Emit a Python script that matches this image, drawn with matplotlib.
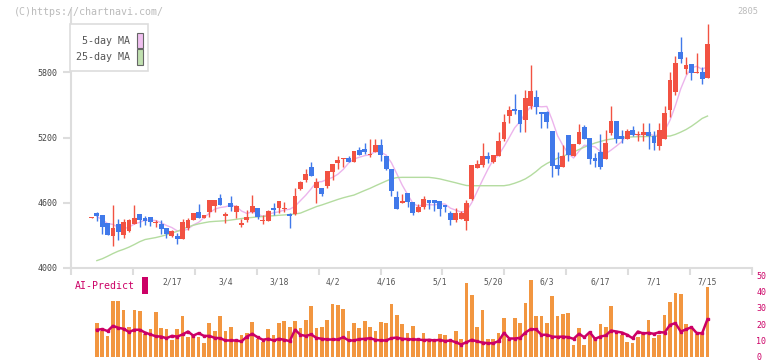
import numpy as np
import pandas as pd
import matplotlib
matplotlib.use("Agg")
import matplotlib.pyplot as plt
from matplotlib.patches import Rectangle

# OHLC, one row per trading day (first row is the day before the bars start)
ohlc = [
    (4463, 4470, 4460, 4469), (4506, 4518, 4435, 4481), (4488, 4490, 4316, 4380), (4414, 4416, 4300, 4307),
    (4297, 4580, 4205, 4368), (4405, 4451, 4261, 4334), (4307, 4454, 4279, 4423), (4340, 4450, 4334, 4442),
    (4408, 4580, 4405, 4460), (4497, 4500, 4380, 4442), (4460, 4478, 4396, 4435), (4469, 4472, 4386, 4423),
    (4414, 4442, 4380, 4423), (4405, 4442, 4316, 4359), (4368, 4372, 4279, 4316), (4297, 4350, 4288, 4340),
    (4294, 4319, 4224, 4270), (4270, 4451, 4265, 4423), (4368, 4460, 4350, 4442), (4442, 4510, 4440, 4506),
    (4515, 4586, 4458, 4460), (4460, 4492, 4456, 4488), (4515, 4630, 4469, 4626), (4570, 4630, 4518, 4626),
    (4644, 4681, 4575, 4580), (4478, 4515, 4414, 4497), (4598, 4662, 4524, 4561), (4515, 4575, 4460, 4570),
    (4396, 4451, 4380, 4414), (4442, 4534, 4426, 4469), (4515, 4672, 4506, 4570), (4552, 4555, 4451, 4469),
    (4436, 4487, 4405, 4444), (4432, 4530, 4430, 4524), (4552, 4598, 4487, 4533), (4552, 4620, 4506, 4616),
    (4543, 4607, 4515, 4552), (4497, 4506, 4368, 4478), (4497, 4736, 4490, 4662), (4727, 4800, 4722, 4791),
    (4810, 4911, 4791, 4865), (4929, 4975, 4843, 4846), (4736, 4828, 4598, 4791), (4736, 4740, 4662, 4681),
    (4754, 4895, 4736, 4892), (4883, 4960, 4810, 4957), (4966, 5030, 4911, 4994), (5003, 5014, 4929, 5012),
    (5012, 5030, 4972, 4975), (4975, 5080, 4972, 5076), (5085, 5113, 5036, 5039), (5095, 5150, 5049, 5067),
    (5039, 5187, 5024, 5049), (5067, 5187, 5064, 5132), (5132, 5187, 4984, 5039), (5030, 5033, 4902, 4911),
    (4911, 4914, 4662, 4708), (4653, 4708, 4540, 4543), (4598, 4681, 4595, 4616), (4690, 4694, 4561, 4607),
    (4607, 4610, 4487, 4506), (4515, 4589, 4512, 4561), (4561, 4662, 4543, 4635), (4625, 4628, 4546, 4601),
    (4625, 4628, 4527, 4601), (4616, 4619, 4481, 4546), (4579, 4582, 4518, 4561), (4509, 4527, 4398, 4444),
    (4444, 4555, 4426, 4509), (4454, 4527, 4450, 4509), (4435, 4625, 4352, 4601), (4638, 4950, 4628, 4947),
    (4920, 4993, 4917, 4957), (4947, 5150, 4929, 5030), (5030, 5067, 4966, 5003), (4975, 5042, 4966, 5039),
    (5030, 5251, 5027, 5168), (5187, 5417, 5168, 5343), (5398, 5490, 5334, 5454), (5463, 5601, 5417, 5444),
    (5454, 5457, 5251, 5325), (5362, 5638, 5251, 5564), (5490, 5868, 5463, 5628), (5573, 5638, 5417, 5481),
    (5435, 5438, 5288, 5417), (5435, 5444, 5288, 5343), (5260, 5263, 4840, 4938), (4947, 5067, 4855, 4911),
    (4929, 5131, 4926, 5030), (5223, 5226, 4984, 5039), (5030, 5144, 5027, 5141), (5141, 5325, 5138, 5251),
    (5297, 5315, 5184, 5187), (5196, 5199, 4957, 5003), (5012, 5058, 4932, 4987), (5067, 5233, 4914, 4932),
    (5006, 5270, 5003, 5150), (5245, 5490, 5227, 5352), (5352, 5355, 5153, 5190), (5214, 5270, 5153, 5190),
    (5190, 5279, 5187, 5260), (5270, 5306, 5214, 5227), (5227, 5260, 5171, 5236), (5227, 5334, 5171, 5251),
    (5251, 5334, 5098, 5217), (5217, 5260, 5088, 5153), (5125, 5334, 5088, 5270), (5190, 5490, 5187, 5426),
    (5457, 5803, 5392, 5730), (5622, 5950, 5595, 5886), (5987, 6125, 5889, 5926), (5834, 5941, 5785, 5868),
    (5877, 5880, 5733, 5797), (5797, 5978, 5794, 5803), (5803, 5849, 5696, 5742), (5748, 6245, 5745, 6061),
]
opens = np.array([r[0] for r in ohlc], float)
highs = np.array([r[1] for r in ohlc], float)
lows = np.array([r[2] for r in ohlc], float)
closes = np.array([r[3] for r in ohlc], float)

# 25-day MA (starts at day 1)
ma25 = [4068, 4085, 4108, 4133, 4155, 4172, 4192, 4216, 4242, 4262,
        4271, 4280, 4292, 4306, 4322, 4337, 4358, 4378, 4393, 4406,
        4416, 4425, 4429, 4432, 4435, 4441, 4448, 4455, 4461, 4465,
        4470, 4474, 4478, 4481, 4485, 4488, 4492, 4497, 4505, 4525,
        4545, 4565, 4580, 4597, 4614, 4631, 4646, 4659, 4671, 4692,
        4713, 4733, 4756, 4778, 4800, 4820, 4832, 4834, 4834, 4834,
        4834, 4834, 4834, 4828, 4820, 4808, 4796, 4784, 4771, 4759,
        4757, 4757, 4757, 4757, 4757, 4757, 4757, 4765, 4780, 4798,
        4820, 4851, 4888, 4930, 4961, 4986, 5010, 5029, 5047, 5068,
        5090, 5112, 5132, 5150, 5164, 5178, 5186, 5194, 5202, 5204,
        5206, 5208, 5209, 5210, 5211, 5212, 5213, 5214, 5229, 5250,
        5274, 5304, 5339, 5376, 5398]

# bottom panel (days 1..115)
volume = [20.6, 16, 12.5, 34, 34, 28.4, 18.5, 28.4, 27.8, 14,
          16.7, 27.2, 17.3, 16.7, 9.9, 16.7, 24.9, 11.9, 14, 11.9,
          8.2, 20.6, 15.6, 24.9, 16, 18.5, 9.9, 13, 14.4, 21.6,
          10.9, 8.8, 16.7, 13, 20.6, 21.8, 18, 22.2, 17.7, 22.8,
          31, 17.5, 18.5, 22.8, 32.7, 31.7, 29.6, 16, 20.8, 17.5,
          22.2, 18.5, 15.6, 21.6, 20.4, 32.7, 25.5, 20.2, 14.8, 18.7,
          10.9, 14.4, 10.9, 9.5, 13.6, 13, 9.5, 16, 10.9, 45.3,
          37.9, 18.5, 28.4, 11.1, 11.1, 14.8, 23.5, 11.1, 23.5, 20.6,
          33.3, 47.5, 24.7, 24.7, 20.6, 37.2, 24.7, 26.3, 26.7, 6.8,
          17.7, 7.4, 14, 11.9, 19.8, 18.5, 30.9, 15, 13, 8.8,
          8.2, 11.9, 14, 22.8, 11.3, 13, 25.9, 33.9, 39.3, 38.3,
          20.2, 17.7, 14, 15, 42.6]
ai_predict = [16.5, 16.9, 15.7, 18.9, 17.7, 17.1, 15.1, 16.5, 16.5, 14.8,
              13.6, 12.5, 12.3, 11.3, 12.7, 12.3, 13.6, 15.4, 12.9, 14.4,
              12.7, 12.7, 11.5, 11.3, 9.9, 9.9, 9.9, 9.3, 12.3, 14.0,
              11.9, 10.3, 10.9, 9.9, 10.9, 10.3, 9.5, 16.5, 13.4, 12.7,
              13.6, 11.5, 10.9, 10.5, 10.5, 10.5, 11.9, 9.9, 9.9, 10.7,
              10.9, 11.3, 10.3, 9.9, 9.9, 11.3, 11.7, 10.9, 10.7, 10.5,
              10.5, 10.1, 10.3, 9.9, 10.3, 9.5, 9.9, 8.8, 7.4, 8.8,
              10.3, 9.3, 8.6, 8.2, 8.2, 9.5, 14.6, 11.1, 11.1, 11.5,
              14.8, 16.9, 16.7, 13.4, 13.4, 12.3, 12.1, 12.3, 11.9, 10.9,
              14.0, 11.9, 15.0, 10.9, 12.3, 13.0, 16.0, 15.4, 14.8, 13.4,
              11.3, 15.4, 14.2, 14.6, 14.0, 15.0, 14.8, 19.5, 20.6, 15.4,
              16.7, 18.1, 14.4, 14.4, 23.0]

date_labels = ["2/17", "3/4", "3/18", "4/2", "4/16", "5/1", "5/20", "6/3", "6/17", "7/1", "7/15"]
date_idx = [15, 25, 35, 45, 55, 65, 75, 85, 95, 105, 115]

ma5 = pd.Series(closes).rolling(5, min_periods=1).mean().values

RED = "#f25242"
BLUE = "#4079ea"
GRID = "#dddddd"
MONO = "DejaVu Sans Mono"
W, H = 772, 361


def fx(px):
    return px / W


def fy(py):
    return 1 - py / H


fig = plt.figure(figsize=(W / 100, H / 100), dpi=100)

# main candle chart
ax = fig.add_axes([fx(70.7), fy(268), (752.3 - 70.7) / W, 258 / H])
step = (707.5 - 91.5) / 115
xl, xr = (70.7 - 91.5) / step, (752.3 - 91.5) / step
x = np.arange(len(closes))

up = closes >= opens
colors = np.where(up, RED, BLUE)
body_lo = np.minimum(opens, closes)
body_h = np.maximum(np.abs(closes - opens), 9)
ax.vlines(x, lows, highs, colors=colors, lw=1.0, zorder=2)
ax.bar(x, body_h, bottom=body_lo, width=0.9, color=colors, lw=0, zorder=3)

days = x[1:]
ax.plot(days, ma5[1:], color="#ecb4ec", lw=1.0, zorder=1)
ax.plot(days, ma25, color="#b4dca0", lw=1.0, zorder=1)

ax.set_xlim(xl, xr)
ax.set_ylim(4000, 4000 + 258 * 9.2)
ax.set_yticks([4000, 4600, 5200, 5800])
ax.set_xticks(np.linspace(xl, xr, 12))
ax.set_xticklabels([])
ax.tick_params(axis="y", length=6, width=1.5, color=GRID, pad=3.5, labelsize=6, labelcolor="#444444")
ax.tick_params(axis="x", length=5, width=1.5, color=GRID)
for lab in ax.get_yticklabels():
    lab.set_family(MONO)
for s in ["top", "right"]:
    ax.spines[s].set_visible(False)
for s in ["left", "bottom"]:
    ax.spines[s].set_color(GRID)
    ax.spines[s].set_linewidth(1.5)

# bottom panel
ax2 = fig.add_axes([fx(70.7), fy(356.5), (752.3 - 70.7) / W, 81 / H])
ax2.bar(days, volume, width=0.69, color="#f29640", lw=0, zorder=1)
ax2.plot(days, ai_predict, color="#cc0066", lw=1.8, marker="s", ms=2, zorder=2)
ax2.set_xlim(xl, xr)
ax2.set_ylim(0, 50)
ax2.set_xticks([])
ax2.yaxis.tick_right()
ax2.set_yticks([0, 10, 20, 30, 40, 50])
ax2.tick_params(axis="y", length=0, pad=3, labelsize=6, labelcolor="#cc0066")
for lab in ax2.get_yticklabels():
    lab.set_family(MONO)
for s in ax2.spines.values():
    s.set_visible(False)
ax2.patch.set_alpha(0)

# date labels between the panels
for i, lab in zip(date_idx, date_labels):
    px = 91.5 + i * step
    fig.text(fx(px), fy(282), lab, ha="center", va="center", fontsize=5.8,
             family=MONO, color="#555555")

fig.text(fx(75), fy(286), "AI-Predict", ha="left", va="center", fontsize=7.1,
         family=MONO, color="#cc0066")
fig.add_artist(Rectangle((fx(142), fy(294)), 6 / W, 17 / H, transform=fig.transFigure,
                         facecolor="#cc0066", edgecolor="none"))

# header
fig.text(fx(14), fy(12), "(C)https://chartnavi.com/", ha="left", va="center",
         fontsize=7.2, family=MONO, color="#bbbbbb")
fig.text(fx(758), fy(12), "2805", ha="right", va="center", fontsize=6.3,
         family=MONO, color="#bbbbbb")

# legend box
fig.add_artist(Rectangle((fx(70), fy(71)), 78 / W, 47 / H, transform=fig.transFigure,
                         facecolor="white", edgecolor=GRID, lw=1.2, zorder=5))
for yy, lab, col in [(40.5, "5-day MA", "#f0c0f0"), (57, "25-day MA", "#c0e0b0")]:
    fig.text(fx(129.5), fy(yy), lab, ha="right", va="center", fontsize=7.2,
             family=MONO, color="#555555", zorder=6)
    fig.add_artist(Rectangle((fx(136.5), fy(yy + 7.5)), 6 / W, 15 / H, transform=fig.transFigure,
                             facecolor=col, edgecolor="#666666", lw=0.8, zorder=6))

fig.savefig("out.png", dpi=100)
